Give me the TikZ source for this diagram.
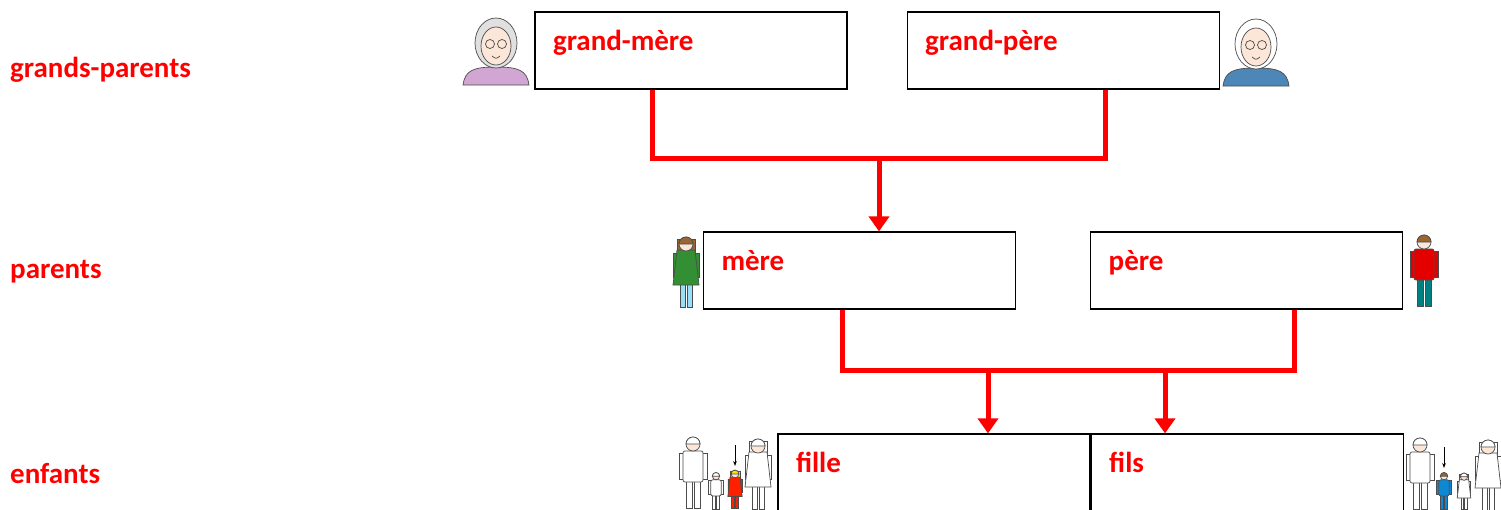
\documentclass[tikz,border=0pt]{standalone}
\usepackage{fontspec}
\setmainfont{Carlito}
\usepackage{xcolor}
\usetikzlibrary{positioning,arrows.meta}

\definecolor{skin}{HTML}{FCE6D8}
\definecolor{linkred}{HTML}{FF0000}

\tikzset{
  box/.style={draw, line width=1.2pt, inner xsep=18pt, inner ysep=0pt,
    text width=276pt, text height=38pt, text depth=39pt, align=left,
    font=\bfseries\fontsize{29}{30}\selectfont, text=linkred},
  level/.style={anchor=base west, inner sep=0pt,
    font=\bfseries\fontsize{29}{30}\selectfont, text=linkred},
  link/.style={draw=linkred, line width=5pt},
  arr/.style={-{Triangle[width=20pt,length=15pt]}},
  outl/.style={draw=black!70, line width=.7pt},
  pics/bust/.style 2 args={code={
    \fill[#2, outl] (-33,72) .. controls (-31,57) and (-22,54) .. (0,54)
      .. controls (22,54) and (31,57) .. (33,72) -- cycle;
    \fill[#1, outl] (0,30) ellipse [x radius=21, y radius=25];
    \fill[skin, outl] (0,33) ellipse [x radius=15, y radius=19];
    \draw[outl] (-6,31) circle [radius=4.5] (6,31) circle [radius=4.5];
    \draw[outl] (-4,43) .. controls (0,46) .. (4,43);
  }},
  pics/man/.style n args={3}{code={
    \fill[#2, outl] (-7,44) rectangle (-1,72) (1,44) rectangle (7,72);
    \fill[#1, outl] (-14,17) rectangle (-9,43) (9,17) rectangle (14,43);
    \fill[#1, outl, rounded corners=2] (-10,15) rectangle (10,46);
    \fill[skin, outl] (0,8) circle [radius=7];
    \fill[#3, outl] (-7,8) arc [start angle=180, end angle=360, radius=7] -- cycle;
  }},
  pics/woman/.style n args={3}{code={
    \fill[#2, outl] (-6,46) rectangle (-1,72) (1,46) rectangle (6,72);
    \fill[#3, outl] (-9,4) rectangle (9,20);
    \fill[#1, outl] (-13,18) rectangle (-9,42) (9,18) rectangle (13,42);
    \fill[#1, outl] (-9,15) -- (9,15) -- (13,50) -- (-13,50) -- cycle;
    \fill[skin, outl] (0,9) circle [radius=7];
    \fill[#3, outl] (-7,9) arc [start angle=180, end angle=360, radius=7] -- cycle;
  }}
}

\begin{document}
\begin{tikzpicture}[x=1pt,y=-1pt,node distance=59pt]
    \path[fill=white, use as bounding box] (0,0) rectangle (1501,509);

    % levels
    \node[level] (lgrand) at (10,77)  {grands-parents};
    \node[level] (lpar)   at (10,278) {parents};
    \node[level] (lenf)   at (10,483) {enfants};

    % boxes
    \node[box] (gm) at (691,50.5) {grand-mère};
    \node[box] (gp) [right = of gm] {grand-père};
    \node[box] (mere) at (859.5,270.5) {mère};
    \node[box] (pere) [right = 74pt of mere] {père};
    \node[box] (fille) at (934,472.5) {fille};
    \node[box] (fils) [right = 0pt of fille] {fils};

    % links
    \coordinate (gjoin) at (879,158);
    \coordinate (pjoinL) at (988,370);
    \coordinate (pjoinR) at (1165,370);
    \draw[link] ([xshift=-39pt]gm.south) |- (gjoin) -| ([xshift=42pt]gp.south);
    \draw[link,arr] (gjoin) -- (gjoin |- mere.north);
    \draw[link] ([xshift=-17.5pt]mere.south) |- (pjoinL) -- (pjoinR)
        -| ([xshift=47.5pt]pere.south);
    \draw[link,arr] (pjoinL) -- (pjoinL |- fille.north);
    \draw[link,arr] (pjoinR) -- (pjoinR |- fils.north);

    % pictograms
    \pic at (496,13)  {bust={black!12}{violet!35}};
    \pic at (1256,14) {bust={white}{blue!45!cyan!60!black!70}};
    \pic at (686,235) {woman={green!45!black!80}{cyan!40}{brown!80!black}};
    \pic at (1424,234) {man={red!90!black}{teal}{brown!80!black}};

    \pic at (693,436) {man={white}{white}{white}};
    \pic[scale=.52] at (716,472) {man={white}{white}{white}};
    \pic[scale=.55] at (735,469) {woman={red!75!orange}{red!75!orange}{yellow!90!orange}};
    \pic at (758,437) {woman={white}{white}{white}};
    \draw[-{Stealth[length=5pt]}, line width=.9pt] (735,445) -- (735,466);

    \pic at (1420,437) {man={white}{white}{white}};
    \pic[scale=.52] at (1444,472) {man={cyan!70!blue}{cyan!70!blue}{brown!80!black}};
    \pic[scale=.52] at (1464,472) {woman={white}{white}{white}};
    \pic at (1488,438) {woman={white}{white}{white}};
    \draw[-{Stealth[length=5pt]}, line width=.9pt] (1444,447) -- (1444,468);
\end{tikzpicture}
\end{document}
